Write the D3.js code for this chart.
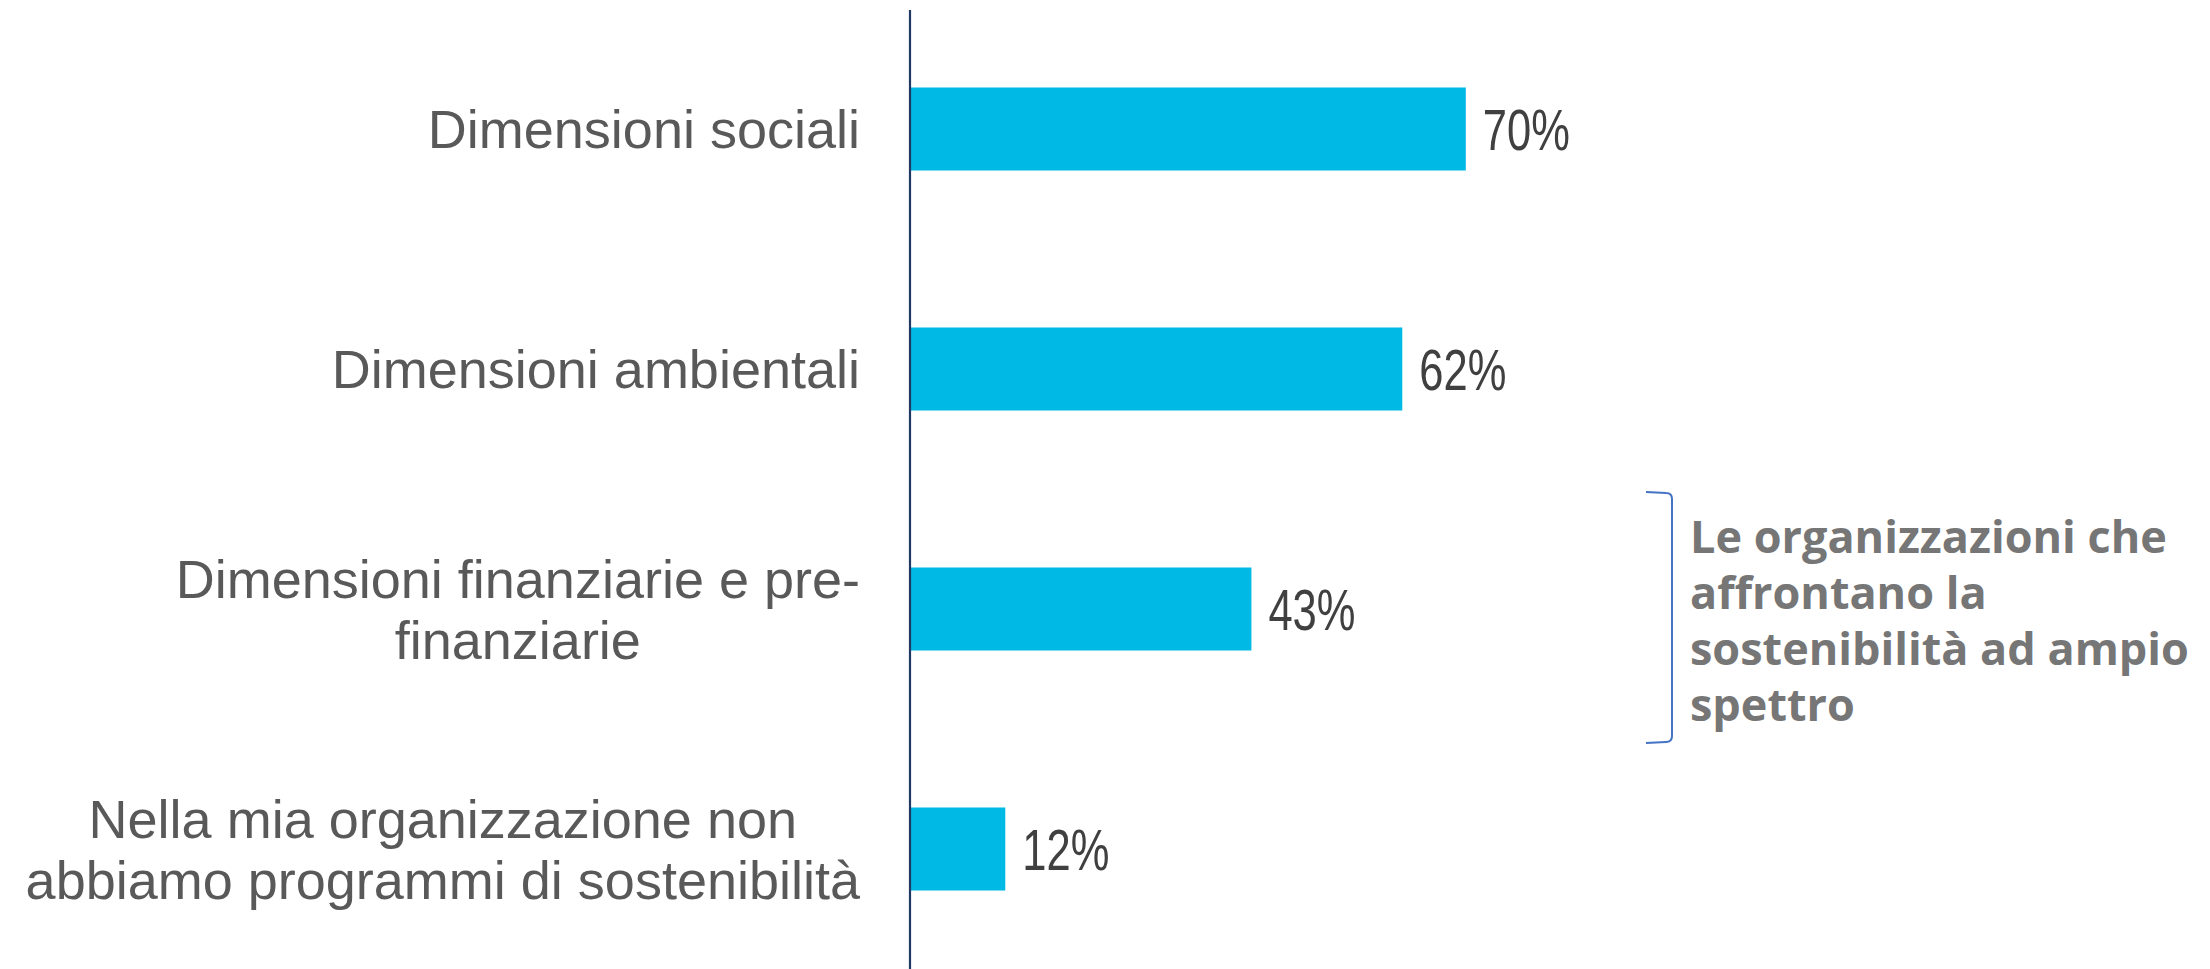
<!DOCTYPE html>
<html>
<head>
<meta charset="utf-8">
<script src="https://cdn.jsdelivr.net/npm/d3@7"></script>
<style>
html,body{margin:0;padding:0;background:#fff;}
svg{display:block;}
</style>
</head>
<body>
<svg id="chart" width="2210" height="969"></svg>
<script>
const categories = [
  ["Dimensioni sociali"],
  ["Dimensioni ambientali"],
  ["Dimensioni finanziarie e pre-", "finanziarie"],
  ["Nella mia organizzazione non", "abbiamo programmi di sostenibilità"]
];
const values = [70, 62, 43, 12];
const annotationLines = ["Le organizzazioni che", "affrontano la", "sostenibilità ad ampio", "spettro"];

const W = 2210, H = 969;
const svg = d3.select("#chart");

const x = d3.scaleLinear().domain([0, 100]).range([910, 1704]);
const y = d3.scaleBand().domain(d3.range(categories.length)).range([9, 969])
  .paddingInner(0.654).paddingOuter(0.327);

// bars
svg.append("g").selectAll("rect").data(values).join("rect")
  .attr("x", x(0))
  .attr("y", (d, i) => y(i))
  .attr("width", d => x(d) - x(0))
  .attr("height", y.bandwidth())
  .attr("fill", "#00BAE5");

// axis line
svg.append("line")
  .attr("x1", x(0)).attr("x2", x(0))
  .attr("y1", 10).attr("y2", H)
  .attr("stroke", "#1F3864").attr("stroke-width", 2.2);

// category labels
const labelFont = 54, lineH = 61, labelRight = 860;
const lg = svg.append("g")
  .attr("font-family", "'Liberation Sans', Arial, sans-serif")
  .attr("font-size", labelFont)
  .attr("fill", "#595959");
categories.forEach((lines, i) => {
  const cy = y(i) + y.bandwidth() / 2;
  const capH = labelFont * 0.716;
  const n = lines.length;
  const t = lg.append("text");
  const widths = lines.map(l => { t.text(l); return t.node().getComputedTextLength(); });
  t.remove();
  const maxW = d3.max(widths);
  const cx = labelRight - maxW / 2;
  lines.forEach((l, j) => {
    const base = cy + capH / 2 + (j - (n - 1) / 2) * lineH;
    lg.append("text")
      .attr("x", n > 1 ? cx : labelRight)
      .attr("y", base)
      .attr("text-anchor", n > 1 ? "middle" : "end")
      .text(l);
  });
});

// value labels (condensed look)
const valFont = 58;
svg.append("g")
  .attr("font-family", "'Liberation Sans', Arial, sans-serif")
  .attr("font-size", valFont)
  .attr("fill", "#404040")
  .selectAll("text").data(values).join("text")
  .attr("transform", (d, i) => `translate(${x(d) + 17},${y(i) + y.bandwidth() / 2 + valFont * 0.716 / 2}) scale(0.75,1)`)
  .text(d => d + "%");

// bracket annotation
const bTop = 492, bBot = 743, bTip = 1646, bV = 1672, r = 6;
svg.append("path")
  .attr("d", `M${bTip},${bTop} L${bV - r},${bTop + 1} Q${bV},${bTop + 1} ${bV},${bTop + r + 1} L${bV},${bBot - r - 1} Q${bV},${bBot - 1} ${bV - r},${bBot - 1} L${bTip},${bBot}`)
  .attr("fill", "none")
  .attr("stroke", "#4472C4")
  .attr("stroke-width", 2);

const ag = svg.append("g")
  .attr("font-family", "'Open Sans', 'Noto Sans', sans-serif")
  .attr("font-weight", "bold")
  .attr("font-size", 45)
  .attr("fill", "#767676");
annotationLines.forEach((l, j) => {
  ag.append("text").attr("x", 1690).attr("y", 553 + j * 56).text(l);
});
</script>
</body>
</html>
